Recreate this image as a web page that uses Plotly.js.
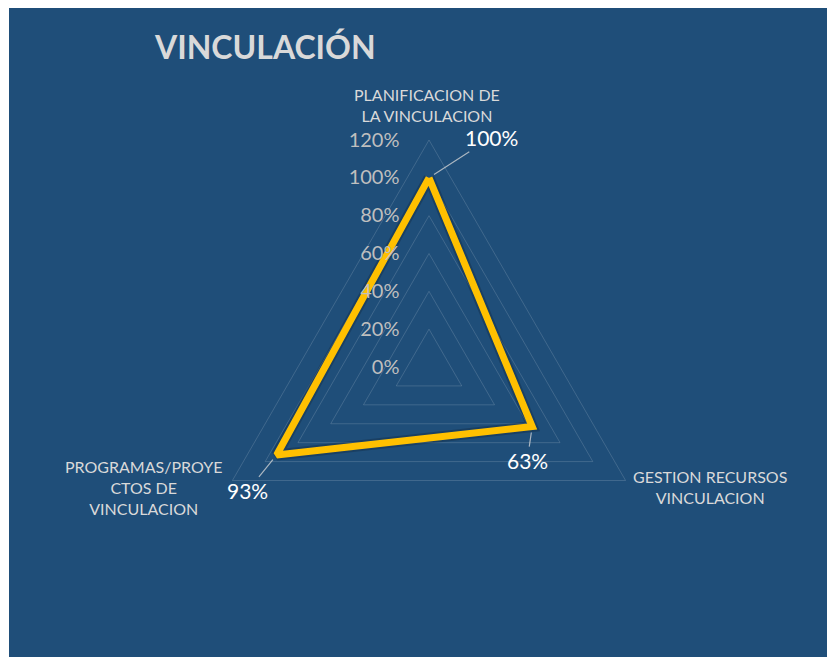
<!DOCTYPE html>
<html>
<head>
<meta charset="utf-8">
<script src="https://cdn.plot.ly/plotly-3.0.1.min.js"></script>
<style>html,body{margin:0;padding:0;background:#fff;}#chart{width:827px;height:657px;}</style>
</head>
<body>
<div id="chart"></div>
<script>
const categories = ["PLANIFICACION DE<br>LA VINCULACION", "GESTION RECURSOS<br>VINCULACION", "PROGRAMAS/PROYE<br>CTOS DE<br>VINCULACION"];
const values = [1.00, 0.63, 0.93];
const valueLabels = ["100%", "63%", "93%"];
const chartTitle = "VINCULACIÓN";

const W = 827, H = 657;
const cx = 429, cy = 367, R = 227, rMax = 1.2;
const domX = [(cx - R) / W, (cx + R) / W];
const domY = [1 - (cy + R) / H, 1 - (cy - R) / H];
const FONT = 'Lato, "Open Sans", sans-serif';

function vertex(v, i) {
  const ang = (90 - i * 360 / values.length) * Math.PI / 180;
  return [cx + (v / rMax) * R * Math.cos(ang), cy - (v / rMax) * R * Math.sin(ang)];
}

// value labels with leader lines (offsets are style only)
const labelOffsets = [[62, -40], [-5, 34], [-29, 36]];
const annotations = values.map((v, i) => {
  const [px, py] = vertex(v, i);
  return {
    x: px / W, y: 1 - py / H, xref: 'paper', yref: 'paper',
    text: valueLabels[i], showarrow: true, arrowhead: 0, arrowwidth: 1.2,
    arrowcolor: 'rgba(217,217,217,0.75)', ax: labelOffsets[i][0], ay: labelOffsets[i][1],
    standoff: 6, font: {family: FONT, size: 21, color: '#FFFFFF'}
  };
});

// category labels placed outside each vertex of the outer ring
const catOffsets = [[-2, -35], [84, 6], [-89, 7]];
categories.forEach((c, i) => {
  const [px, py] = vertex(rMax, i);
  annotations.push({
    x: (px + catOffsets[i][0]) / W, y: 1 - (py + catOffsets[i][1]) / H,
    xref: 'paper', yref: 'paper', xanchor: 'center', yanchor: 'middle',
    text: c, showarrow: false, align: 'center',
    font: {family: FONT, size: 16, color: '#D9D9D9'}
  });
});

const shadow = {
  type: 'scatterpolar',
  r: values.concat([values[0]]),
  theta: categories.concat([categories[0]]),
  mode: 'lines',
  line: {color: 'rgba(0,0,0,0.18)', width: 11},
  hoverinfo: 'skip'
};
const trace = {
  type: 'scatterpolar',
  r: values.concat([values[0]]),
  theta: categories.concat([categories[0]]),
  mode: 'lines',
  line: {color: '#FFC000', width: 7},
  hoverinfo: 'skip'
};

const layout = {
  width: W, height: H,
  margin: {l: 0, r: 0, t: 0, b: 0},
  paper_bgcolor: '#FFFFFF',
  showlegend: false,
  title: {
    text: '<b>' + chartTitle + '</b>',
    x: 155 / W, xanchor: 'left', xref: 'paper',
    y: 1 - 48 / H, yanchor: 'middle', yref: 'paper',
    font: {family: FONT, size: 32, color: '#D9D9D9'}
  },
  shapes: [{
    type: 'rect', xref: 'paper', yref: 'paper', layer: 'below',
    x0: 9 / W, x1: 1, y0: 0, y1: 1 - 8 / H,
    fillcolor: '#1F4E79', line: {width: 0}
  }],
  polar: {
    domain: {x: domX, y: domY},
    bgcolor: 'rgba(0,0,0,0)',
    gridshape: 'linear',
    angularaxis: {
      rotation: 90, direction: 'clockwise',
      showgrid: false, showline: true, showticklabels: false,
      linecolor: 'rgba(255,255,255,0.15)', linewidth: 1,
      ticks: ''
    },
    radialaxis: {
      range: [0, rMax], dtick: 0.2, tick0: 0, tickformat: '.0%',
      showline: false, ticks: 'outside', ticklen: 22, tickcolor: 'rgba(0,0,0,0)',
      angle: 90, tickangle: 90, layer: 'above traces',
      side: 'counterclockwise',
      gridcolor: 'rgba(255,255,255,0.15)', gridwidth: 1,
      tickfont: {family: FONT, size: 20, color: '#BFBFBF'}
    }
  },
  annotations: annotations
};

Plotly.newPlot('chart', [shadow, trace], layout, {displayModeBar: false});
</script>
</body>
</html>
